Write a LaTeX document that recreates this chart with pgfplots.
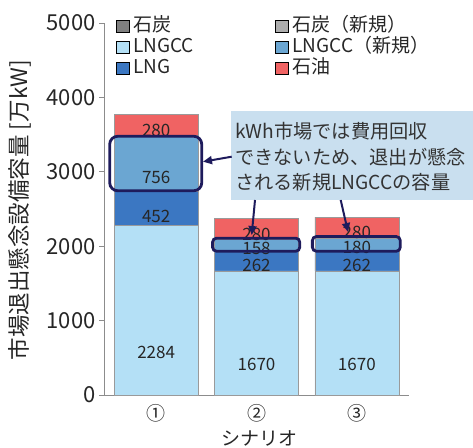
\documentclass[border=0pt]{standalone}
\usepackage{fontspec}
\setmainfont{Noto Sans CJK JP}
\usepackage{pgfplots}
\usepackage{pgfplotstable}
\pgfplotsset{compat=1.18}
\usetikzlibrary{arrows.meta}

\definecolor{coal}{HTML}{7F7F7F}
\definecolor{coalnew}{HTML}{ADADAD}
\definecolor{lngcc}{HTML}{B4E0F6}
\definecolor{lngccnew}{HTML}{6BA6D2}
\definecolor{lng}{HTML}{3B77C2}
\definecolor{oil}{HTML}{F06363}
\definecolor{navy}{HTML}{1E1B5C}
\definecolor{callout}{HTML}{C9DFEF}
\definecolor{axisgray}{HTML}{8C8C8C}
\definecolor{bargray}{HTML}{9A9A9A}

% capacity at risk of market exit [10^4 kW], stacked bottom to top
\pgfplotstableread{
x lngcc lng lngccnew oil
0 2284 452 756 280
1 1670 262 158 280
2 1670 262 180 280
}\capacity

\begin{document}
\begin{tikzpicture}
\useasboundingbox (0,0) rectangle (473pt,447pt);
\begin{axis}[
  at={(104pt,52pt)}, anchor=south west,
  scale only axis, width=305pt, height=372pt,
  ybar stacked, bar width=84pt,
  xmin=-0.52, xmax=2.52, ymin=0, ymax=5000,
  axis lines*=left,
  axis line style={axisgray, line width=0.8pt, -},
  xtick={0,1,2}, xticklabels={①,②,③},
  xtick style={draw=none},
  ytick={0,1000,...,5000},
  ytick style={axisgray, line width=0.8pt},
  tick align=outside, major tick length=5pt,
  /pgf/number format/assume math mode=true,
  /pgf/number format/1000 sep={},
  yticklabel style={font=\fontsize{22}{22}\selectfont, text=black!85},
  xticklabel style={font=\fontsize{19}{19}\selectfont, text=black!85, yshift=-1pt},
  xlabel={シナリオ},
  xlabel style={at={(axis description cs:0.51,-0.1156)}, anchor=center,
    font=\fontsize{19}{19}\selectfont, text=black!85},
  ylabel={市場退出懸念設備容量 [万kW]},
  ylabel style={at={(axis description cs:-0.275,0.497)}, anchor=center,
    font=\fontsize{22.5}{22.5}\selectfont, text=black!85},
  visualization depends on={rawy \as \segval},
  nodes near coords={\pgfmathprintnumber[fixed,precision=0]{\segval}},
  every node near coord/.append style={anchor=center,
    font=\fontsize{17}{17}\selectfont, text=black!85,
    yshift={-0.0186*\segval*1pt}},
  legend columns=2,
  legend cell align=left,
  legend style={at={(axis description cs:0.039,1.018)}, anchor=north west,
    draw=none, fill=none, inner sep=0pt, outer sep=0pt,
    font=\fontsize{19}{19}\selectfont, text=black!85,
    nodes={inner sep=0pt, text height=15pt, text depth=5pt},
    row sep=1pt,
    /tikz/every odd column/.append style={column sep=4pt},
    /tikz/every even column/.append style={column sep=81pt}},
  seg/.style={fill=#1, draw=bargray, line width=0.5pt},
  sq/.style={legend image code/.code={\path[fill=#1] (0pt,-6pt) rectangle (13pt,6pt);}},
]
\addplot[seg=lngcc, forget plot]    table[x=x, y=lngcc]    {\capacity};
\addplot[seg=lng, forget plot]      table[x=x, y=lng]      {\capacity};
\addplot[seg=lngccnew, forget plot] table[x=x, y=lngccnew] {\capacity};
\addplot[seg=oil, forget plot]      table[x=x, y=oil]      {\capacity};

\addlegendimage{sq=coal}     \addlegendentry{石炭}
\addlegendimage{sq=coalnew}  \addlegendentry{石炭（新規）}
\addlegendimage{sq=lngcc}    \addlegendentry{LNGCC}
\addlegendimage{sq=lngccnew} \addlegendentry{LNGCC（新規）}
\addlegendimage{sq=lng}      \addlegendentry{LNG}
\addlegendimage{sq=oil}      \addlegendentry{石油}

% corners of the highlight frames around the new LNGCC segments
\coordinate (h1a) at (axis cs:-0.463,2745);
\coordinate (h1b) at (axis cs:0.454,3478);
\coordinate (h2a) at (axis cs:0.562,1932);
\coordinate (h2b) at (axis cs:1.431,2108);
\coordinate (h3a) at (axis cs:1.557,1932);
\coordinate (h3b) at (axis cs:2.433,2130);
\end{axis}

\draw[navy, line width=2.8pt, rounded corners=8pt] (h1a) rectangle (h1b);
\draw[navy, line width=2.8pt, rounded corners=4pt] (h2a) rectangle (h2b);
\draw[navy, line width=2.8pt, rounded corners=4pt] (h3a) rectangle (h3b);

% callout
\fill[callout] (231pt,247pt) rectangle (473pt,336pt);
\begin{scope}[font=\fontsize{19.2}{19.2}\selectfont, text=black!80]
  \node[anchor=base west, inner sep=0pt] at (235pt,308pt) {kWh市場では費用回収};
  \node[anchor=base west, inner sep=0pt] at (235pt,282pt) {できないため、退出が懸念};
  \node[anchor=base west, inner sep=0pt] at (235pt,257pt) {される新規LNGCCの容量};
\end{scope}
\begin{scope}[navy, line width=2pt, -{Triangle[length=9pt,width=8pt]}]
  \draw (231.7pt,290.3pt) -- (203pt,285.3pt);
  \draw (255pt,247pt) -- (251.7pt,212pt);
  \draw (340.7pt,247pt) -- (348pt,215pt);
\end{scope}
\end{tikzpicture}
\end{document}
